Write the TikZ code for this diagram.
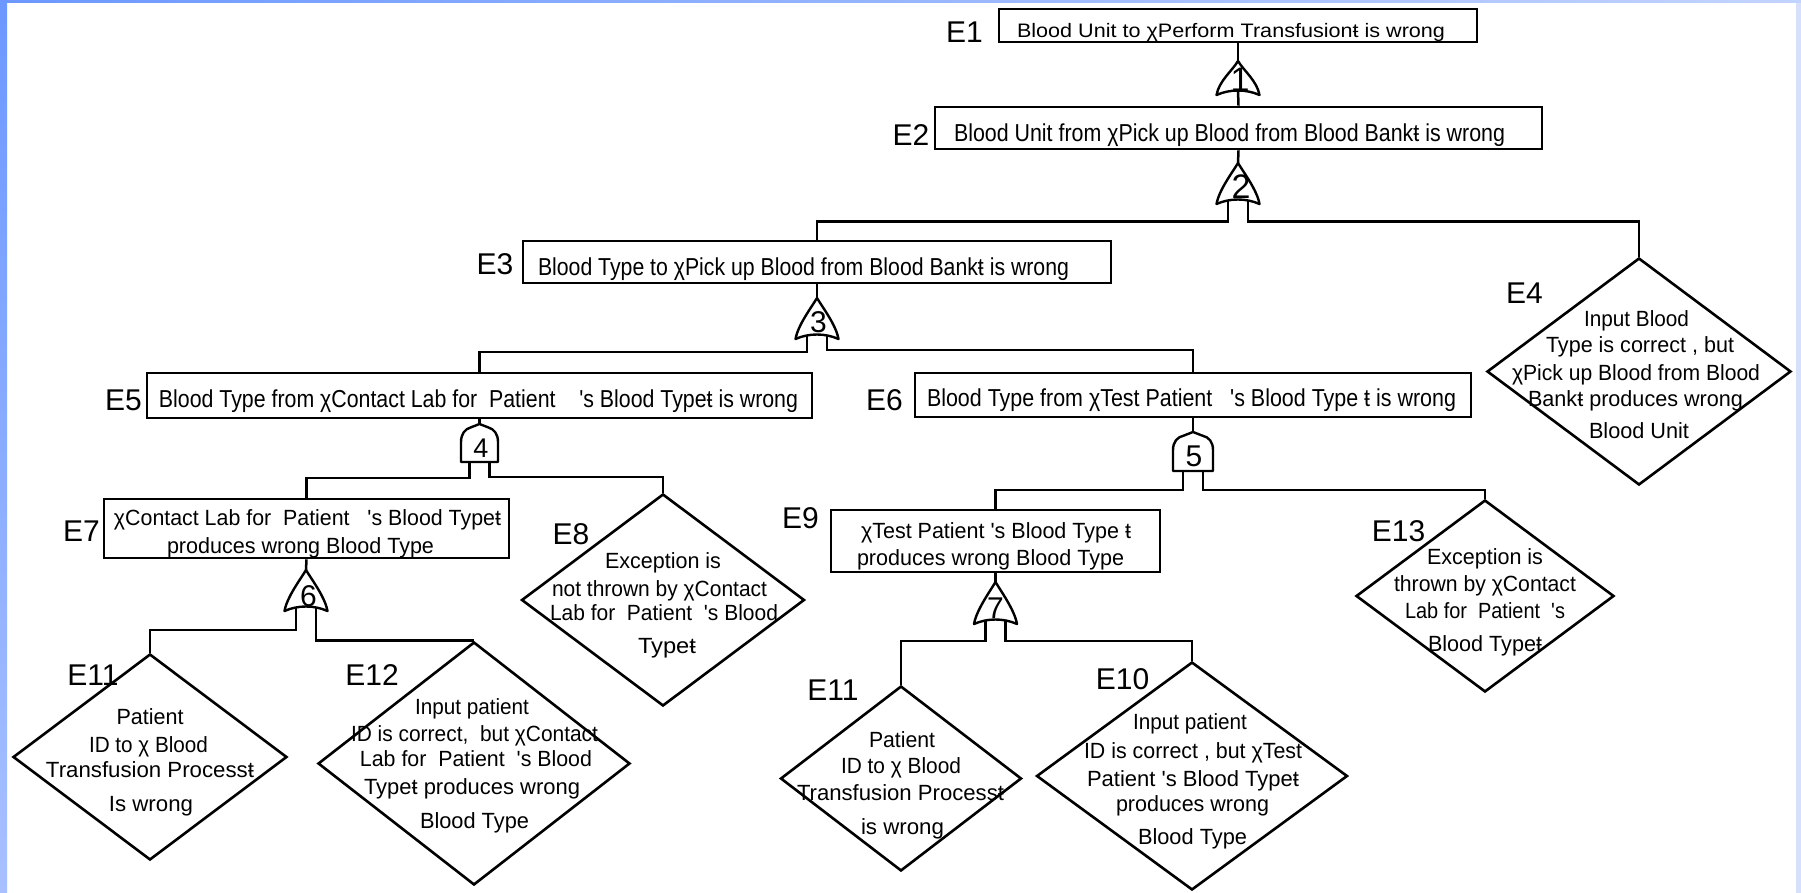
\documentclass[tikz,border=0pt]{standalone}
\usepackage{fontspec}
\usepackage{graphicx}
\usetikzlibrary{shapes.geometric}
\newfontfamily\af{Liberation Sans}
% squeeze or stretch a line of text to a given width, keeping its height
\newcommand\fitto[2]{\resizebox{#1pt}{\height}{#2}}
% OR gate: name, centre x, apex y, bottom y
\newcommand\orgate[4]{%
  \draw[gate] (#2,#3) .. controls ({#2-6},{#3+10}) and ({#2-19},{#4-14}) .. ({#2-21.5},#4)
    .. controls ({#2-8},{#4-6}) and ({#2+8},{#4-6}) .. ({#2+21.5},#4)
    .. controls ({#2+19},{#4-14}) and ({#2+6},{#3+10}) .. cycle;
  \coordinate (#1t) at (#2,#3);
  \coordinate (#1b) at (#2,{#4-4.5});
  \coordinate (#1l) at ({#2-10},{#4-3.5});
  \coordinate (#1r) at ({#2+10},{#4-3.5});
}
% AND gate: name, centre x, apex y, bottom y, half width
\newcommand\andgate[5]{%
  \draw[gate] ({#2-#5},#4) -- ({#2-#5},{#3+18})
    .. controls ({#2-#5},{#3+10}) and ({#2-#5+4},{#3+5}) .. ({#2-9},{#3+3.5}) -- (#2,#3)
    -- ({#2+9},{#3+3.5}) .. controls ({#2+#5-4},{#3+5}) and ({#2+#5},{#3+10}) .. ({#2+#5},{#3+18})
    -- ({#2+#5},#4) -- cycle;
  \coordinate (#1t) at (#2,#3);
  \coordinate (#1l) at ({#2-10},#4);
  \coordinate (#1r) at ({#2+10},#4);
}
\definecolor{edgeblue}{RGB}{108,152,255}
\definecolor{edgelight}{RGB}{168,192,255}
\definecolor{edgepale}{RGB}{214,224,250}
\tikzset{
  ev/.style={draw, line width=2.6pt, rectangle, inner sep=0pt},
  dia/.style={draw, line width=2.6pt, diamond, inner sep=0pt},
  wire/.style={line width=2.5pt},
  gate/.style={line width=2.4pt, fill=white, line join=round},
  txt/.style={anchor=base, inner sep=0pt, font=\af\fontsize{22}{26}\selectfont},
  btxt/.style={anchor=base, inner sep=0pt, font=\af\fontsize{24.5}{29}\selectfont},
  stxt/.style={anchor=base, inner sep=0pt, font=\af\fontsize{19.5}{23}\selectfont},
  lbl/.style={anchor=base, inner sep=0pt, font=\af\fontsize{30}{36}\selectfont},
  num/.style={anchor=base, inner sep=0pt, font=\af\fontsize{30}{36}\selectfont},
  bignum/.style={anchor=base, inner sep=0pt, font=\af\fontsize{34}{40}\selectfont},
}
\begin{document}
\begin{tikzpicture}[x=1pt,y=-1pt]
\useasboundingbox (0,0) rectangle (1801,893);
% page background with its blue rim
\fill[white] (0,0) rectangle (1801,893);
\shade[top color=edgeblue, bottom color=edgelight] (0,0) rectangle (7,893);
\shade[left color=edgeblue, right color=edgelight!70!white] (0,0) rectangle (1801,3);
\fill[edgepale] (1796,3) rectangle (1801,893);

% events drawn as boxes
\node[ev, minimum width=478pt, minimum height=33pt] (e1) at (1238,25.5) {};
\node[ev, minimum width=607pt, minimum height=42pt] (e2) at (1238.5,128) {};
\node[ev, minimum width=588pt, minimum height=42pt] (e3) at (817,262) {};
\node[ev, minimum width=665pt, minimum height=45pt] (e5) at (479.5,395.5) {};
\node[ev, minimum width=556pt, minimum height=44pt] (e6) at (1193,395) {};
\node[ev, minimum width=405pt, minimum height=59pt] (e7) at (306.5,528.5) {};
\node[ev, minimum width=329pt, minimum height=62pt] (e9) at (995.5,541) {};

% basic events drawn as diamonds
\node[dia, minimum width=304pt, minimum height=227pt] (e4) at (1639,371.5) {};
\node[dia, minimum width=283pt, minimum height=212pt] (e8) at (663,600) {};
\node[dia, minimum width=274pt, minimum height=206pt] (e11a) at (150,757) {};
\node[dia, minimum width=312pt, minimum height=243pt] (e12) at (474,763.5) {};
\node[dia, minimum width=241pt, minimum height=185pt] (e11b) at (901,778.5) {};
\node[dia, minimum width=311pt, minimum height=228pt] (e10) at (1192,776) {};
\node[dia, minimum width=258pt, minimum height=192pt] (e13) at (1485,596) {};

% bus levels below the gates
\coordinate (b2) at (0,221.5);
\coordinate (b3l) at (0,352);
\coordinate (b3r) at (0,350);
\coordinate (b4l) at (0,478);
\coordinate (b4r) at (0,477);
\coordinate (b5) at (0,490);
\coordinate (b6) at (0,630);
\coordinate (b7) at (0,641);

% gate anchors (drawn later on top of the wires)
\coordinate (g1t) at (1238,61);   \coordinate (g1b) at (1238,90.5);
\coordinate (g2t) at (1238,163);  \coordinate (g2l) at (1228,200.5); \coordinate (g2r) at (1248,200.5);
\coordinate (g3t) at (817,298);   \coordinate (g3l) at (807,335.5);  \coordinate (g3r) at (827,335.5);
\coordinate (g4t) at (479.5,424); \coordinate (g4l) at (469.5,462);  \coordinate (g4r) at (489.5,462);
\coordinate (g5t) at (1193,432);  \coordinate (g5l) at (1183,471);   \coordinate (g5r) at (1203,471);
\coordinate (g6t) at (306,570);   \coordinate (g6l) at (296,607.5);  \coordinate (g6r) at (316,607.5);
\coordinate (g7t) at (995.5,582); \coordinate (g7l) at (985.5,620.5); \coordinate (g7r) at (1005.5,620.5);

% connectors
\draw[wire] (e1.south) -- (g1t);
\draw[wire] (g1b) -- (e2.north);
\draw[wire] (e2.south) -- (g2t);
\draw[wire] (g2l) |- (e3.north |- b2) -- (e3.north);
\draw[wire] (g2r) |- (e4.north |- b2) -- (e4.north);
\draw[wire] (e3.south) -- (g3t);
\draw[wire] (g3l) |- (e5.north |- b3l) -- (e5.north);
\draw[wire] (g3r) |- (e6.north |- b3r) -- (e6.north);
\draw[wire] (e5.south) -- (g4t);
\draw[wire] (g4l) |- (e7.north |- b4l) -- (e7.north);
\draw[wire] (g4r) |- (e8.north |- b4r) -- (e8.north);
\draw[wire] (e6.south) -- (g5t);
\draw[wire] (g5l) |- (e9.north |- b5) -- (e9.north);
\draw[wire] (g5r) |- (e13.north |- b5) -- (e13.north);
\draw[wire] (e7.south) -- (g6t);
\draw[wire] (g6l) |- (e11a.north |- b6) -- (e11a.north);
\draw[wire] (g6r) |- (e12.north);
\draw[wire] (e9.south) -- (g7t);
\draw[wire] (g7l) |- (e11b.north |- b7) -- (e11b.north);
\draw[wire] (g7r) |- (e10.north |- b7) -- (e10.north);

% gates
\orgate{G1}{1238}{61}{95}
\orgate{G2}{1238}{163}{204}
\orgate{G3}{817}{298}{339}
\andgate{G4}{479.5}{424}{462}{18.5}
\andgate{G5}{1193}{432}{471}{20}
\orgate{G6}{306}{570}{611}
\orgate{G7}{995.5}{582}{624}

% gate numbers
\node[bignum] (n1) at (1240,92) {1};
\node[bignum] (n2) at (1241,199) {2};
\node[num] (n3) at (818.5,332) {3};
\node[num, font=\af\fontsize{27}{32}\selectfont] (n4) at (481,457) {4};
\node[num] (n5) at (1194,466) {5};
\node[num] (n6) at (308.5,606) {6};
\node[num] (n7) at (995.5,618) {7};

% event labels
\node[lbl] (l1) at (964.5,43) {E1};
\node[lbl] (l2) at (911,146) {E2};
\node[lbl] (l3) at (495,275) {E3};
\node[lbl] (l4) at (1524.5,303) {E4};
\node[lbl] (l5) at (123.5,410) {E5};
\node[lbl] (l6) at (884.5,410) {E6};
\node[lbl] (l7) at (81.5,541) {E7};
\node[lbl] (l8) at (571,544) {E8};
\node[lbl] (l9) at (800.5,528) {E9};
\node[lbl] (l10) at (1122.5,689) {E10};
\node[lbl] (l11a) at (93,685) {E11};
\node[lbl] (l11b) at (833,700) {E11};
\node[lbl] (l12) at (372,685) {E12};
\node[lbl] (l13) at (1398.5,541) {E13};

% box texts
\node[stxt] (t1) at (1231,37.5) {\fitto{428}{Blood Unit to χPerform Transfusionŧ is wrong}};
\node[btxt] (t2) at (1229.5,141.7) {\fitto{551}{Blood Unit from χPick up Blood from Blood Bankŧ is wrong}};
\node[btxt] (t3) at (803.5,276) {\fitto{531}{Blood Type to χPick up Blood from Blood Bankŧ is wrong}};
\node[btxt] (t5) at (478.5,407) {\fitto{639}{Blood Type from χContact Lab for\ \ Patient\ \ \ \ 's Blood Typeŧ is wrong}};
\node[btxt] (t6) at (1191.5,406.5) {\fitto{529}{Blood Type from χTest Patient\ \ \ 's Blood Type ŧ is wrong}};
\node[txt] (t7a) at (307.5,525.7) {\fitto{387}{χContact Lab for\ \ Patient\ \ \ 's Blood Typeŧ}};
\node[txt] (t7b) at (300.5,553) {\fitto{267}{produces wrong Blood Type}};
\node[txt] (t9a) at (996,538.7) {\fitto{270}{χTest Patient 's Blood Type ŧ}};
\node[txt] (t9b) at (990.5,565.7) {\fitto{267}{produces wrong Blood Type}};

% diamond texts
\node[txt] (t4a) at (1636.5,326) {\fitto{105}{Input Blood}};
\node[txt] (t4b) at (1640,352) {\fitto{188}{Type is correct , but}};
\node[txt] (t4c) at (1636,380) {\fitto{248}{χPick up Blood from Blood}};
\node[txt] (t4d) at (1635.5,406) {\fitto{215}{Bankŧ produces wrong}};
\node[txt] (t4e) at (1639,438) {\fitto{100}{Blood Unit}};

\node[txt] (t8a) at (663,568) {\fitto{116}{Exception is}};
\node[txt] (t8b) at (659.5,596) {\fitto{215}{not thrown by χContact}};
\node[txt] (t8c) at (664,620) {\fitto{228}{Lab for\ \ Patient\ \ 's Blood}};
\node[txt] (t8d) at (667,653) {\fitto{58}{Typeŧ}};

\node[txt] (t11a) at (150,724) {\fitto{67}{Patient}};
\node[txt] (t11b) at (148.5,752) {\fitto{119}{ID to χ Blood}};
\node[txt] (t11c) at (150,777) {\fitto{208}{Transfusion Processŧ}};
\node[txt] (t11d) at (151,811) {\fitto{84}{Is wrong}};

\node[txt] (t12a) at (472,714) {\fitto{114}{Input patient}};
\node[txt] (t12b) at (474.5,741) {\fitto{247}{ID is correct,\ \ but χContact}};
\node[txt] (t12c) at (476,766) {\fitto{232}{Lab for\ \ Patient\ \ 's Blood}};
\node[txt] (t12d) at (472,794) {\fitto{216}{Typeŧ produces wrong}};
\node[txt] (t12e) at (474.5,828) {\fitto{109}{Blood Type}};

\node[txt] (t11e) at (902,747) {\fitto{66}{Patient}};
\node[txt] (t11f) at (901,773) {\fitto{120}{ID to χ Blood}};
\node[txt] (t11g) at (900.5,800) {\fitto{207}{Transfusion Processŧ}};
\node[txt] (t11h) at (902.5,834) {\fitto{83}{is wrong}};

\node[txt] (t10a) at (1190,729) {\fitto{114}{Input patient}};
\node[txt] (t10b) at (1193,758) {\fitto{218}{ID is correct , but χTest}};
\node[txt] (t10c) at (1193,786) {\fitto{212}{Patient 's Blood Typeŧ}};
\node[txt] (t10d) at (1192.5,811) {\fitto{153}{produces wrong}};
\node[txt] (t10e) at (1192.5,844) {\fitto{109}{Blood Type}};

\node[txt] (t13a) at (1485,564) {\fitto{116}{Exception is}};
\node[txt] (t13b) at (1485,591) {\fitto{182}{thrown by χContact}};
\node[txt] (t13c) at (1485,618) {\fitto{160}{Lab for\ \ Patient\ \ 's}};
\node[txt] (t13d) at (1485,651) {\fitto{114}{Blood Typeŧ}};
\end{tikzpicture}
\end{document}
